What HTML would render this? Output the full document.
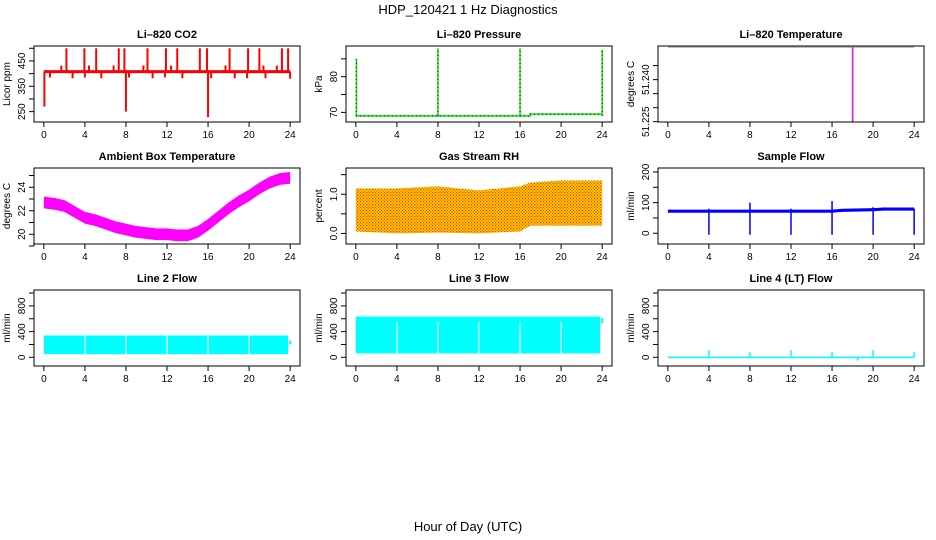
<!DOCTYPE html>
<html><head><meta charset="utf-8"><style>
html,body{margin:0;padding:0;background:#fff;}
svg{display:block;font-family:"Liberation Sans",sans-serif;}
</style></head><body>
<svg id="c" width="936" height="540" viewBox="0 0 936 540" xmlns="http://www.w3.org/2000/svg">
<defs>
<pattern id="rhp" width="3" height="3" patternUnits="userSpaceOnUse">
<rect width="3" height="3" fill="#ffdd00"/><rect x="0" y="0" width="1.2" height="1.2" fill="#ff2200"/><rect x="1.5" y="1.5" width="1.2" height="1.2" fill="#ee3300"/>
</pattern>
</defs>
<text x="468" y="14" text-anchor="middle" font-size="13">HDP_120421  1 Hz Diagnostics</text>
<text x="468" y="531" text-anchor="middle" font-size="13">Hour of Day (UTC)</text>
</svg>
<script>
// ---- data ----
var hours = [0,4,8,12,16,20,24];
var xTickLabels = ["0","4","8","12","16","20","24"];
var co2Base = 408;
var co2SpikeT = [2.2,3.95,5.1,7.3,7.85,10.1,11.9,13.0,15.2,15.9,18.1,19.9,21.0,23.2,23.8,1.7,4.4,6.8,9.7,12.4,17.7,21.4,22.7,0.6,2.8,4.0,5.6,8.3,10.6,11.8,13.5,16.3,18.6,19.8,21.6,24.0,0.05,8.0,16.0];
var co2SpikeV = [500,500,500,500,500,500,500,500,500,500,500,500,500,500,500,432,432,432,432,432,432,432,432,385,382,385,382,385,382,385,382,382,382,382,382,380,270,250,228];
var presT = [0,17,17,24];
var presV = [69,69,69.5,69.5];
var presSpikeT = [0.05,8,16,24];
var presSpikeV = [85,88,88,87.5];
var tempBase = 51.2516;
var tempSpikeT = [18];
var tempSpikeV = [51.2249];
var ambT = [0,1,2,3,4,5,6,7,8,9,10,11,12,13,14,15,16,17,18,19,20,21,22,23,24];
var ambV = [22.7,22.6,22.4,21.9,21.4,21.2,20.9,20.6,20.4,20.2,20.1,20.0,20.0,19.9,19.9,20.2,20.8,21.5,22.2,22.8,23.3,23.9,24.4,24.7,24.8];
var rhT = [0,4,8,12,16,17,20,24];
var rhLo = [0.05,0.0,0.02,0.0,0.05,0.2,0.2,0.2];
var rhHi = [1.15,1.15,1.2,1.1,1.2,1.3,1.35,1.35];
var flowT = [0,16,17,20,21,24];
var flowV = [73,73,76,78,80,80];
var flowDipT = [4,8,12,16,20,24];
var flowDipV = [-5,-5,-5,-5,-5,-5];
var flowUpV = [80,100,80,105,85,80];
var l2Lo = 50, l2Hi = 340;
var l3Lo = 62, l3Hi = 632;
var l4SpikeT = [4,8,12,16,20,24,18.5];
var l4SpikeV = [110,80,110,80,110,80,-50];

// ---- layout ----
var svg = document.getElementById('c');
var NS = 'http://www.w3.org/2000/svg';
var W = 266, H = 76;
var cols = [34,346,658], rows = [46,168,290];
function mk(tag, attrs, parent){
  var e = document.createElementNS(NS, tag);
  for (var k in attrs) e.setAttribute(k, attrs[k]);
  (parent||svg).appendChild(e); return e;
}
function panel(ci, ri, title, name, ymin, ymax, yticks, ylabels, ylab){
  var L = cols[ci], T = rows[ri];
  var g = mk('g', {});
  
  
  var p = {L:L,T:T,g:g,
    x:function(t){return L + (t+0.96)/25.92*W;},
    y:function(v){return T + H - (v-ymin)/(ymax-ymin)*H;}};
  var tt = mk('text', {x:L+W/2, y:T-8, 'text-anchor':'middle', 'font-size':11, 'font-weight':'bold'}, g);
  tt.textContent = title;
  
  
  var xa = mk('g', {}, g);
  
  
  mk('line', {x1:p.x(hours[0]), x2:p.x(hours[hours.length-1]), y1:T+H, y2:T+H, stroke:'#000'}, xa);
  hours.forEach(function(h,i){
    mk('line', {x1:p.x(h), x2:p.x(h), y1:T+H, y2:T+H+5, stroke:'#000'}, xa);
    var t = mk('text', {x:p.x(h), y:T+H+16, 'text-anchor':'middle', 'font-size':10}, xa);
    t.textContent = xTickLabels[i];
  });
  var ya = mk('g', {}, g);
  
  
  mk('line', {x1:L, x2:L, y1:p.y(yticks[0]), y2:p.y(yticks[yticks.length-1]), stroke:'#000'}, ya);
  yticks.forEach(function(v,i){
    mk('line', {x1:L-5, x2:L, y1:p.y(v), y2:p.y(v), stroke:'#000'}, ya);
    if (ylabels[i]) {
      var t = mk('text', {x:0, y:0, 'text-anchor':'middle', 'font-size':10, transform:'translate('+(L-9)+','+p.y(v)+') rotate(-90)'}, ya);
      t.textContent = ylabels[i];
    }
  });
  var yl = mk('text', {x:0,y:0,'text-anchor':'middle','font-size':10, transform:'translate('+(L-24)+','+(T+H/2)+') rotate(-90)'}, g);
  yl.textContent = ylab;
  
  
  p.clip = 'cl'+ci+ri;
  var cp = mk('clipPath', {id:p.clip}, g);
  mk('rect', {x:L, y:T, width:W, height:H}, cp);
  p.d = mk('g', {'clip-path':'url(#'+p.clip+')'}, g);
  p.box = function(){ mk('rect', {x:L, y:T, width:W, height:H, fill:'none', stroke:'#000'}, g); };
  return p;
}
function vline(p, t, v0, v1, col, w, dash){
  var a = {x1:p.x(t), x2:p.x(t), y1:p.y(v0), y2:p.y(v1), stroke:col, 'stroke-width':w};
  if (dash) a['stroke-dasharray'] = dash;
  var l = mk('line', a, p.d);
  
  
  return l;
}
function poly(p, ts, vs, col, w, dash){
  var pts = ts.map(function(t,i){return p.x(t)+','+p.y(vs[i]);}).join(' ');
  var a = {points:pts, fill:'none', stroke:col, 'stroke-width':w};
  if (dash) a['stroke-dasharray'] = dash;
  var l = mk('polyline', a, p.d);
  
  
}
function band(p, ts, lo, hi, fill){
  var pts = ts.map(function(t,i){return p.x(t)+','+p.y(hi[i]);});
  for (var i=ts.length-1;i>=0;i--) pts.push(p.x(ts[i])+','+p.y(lo[i]));
  var b = mk('polygon', {points:pts.join(' '), fill:fill}, p.d);
  
  
}

// Panel 1 CO2
var p1 = panel(0,0,'Li\u2013820 CO2','co2-panel',209,509,[250,300,350,400,450,500],['250','','350','','450',''],'Licor ppm');
poly(p1,[0,24],[co2Base,co2Base],'#ff0000',3);
co2SpikeT.forEach(function(t,i){ vline(p1,t,co2Base,co2SpikeV[i],'#ff0000',2); });
p1.box();

// Panel 2 Pressure
var p2 = panel(1,0,'Li\u2013820 Pressure','pressure-panel',67.3,88.6,[70,75,80,85],['70','','80',''],'kPa');
poly(p2,presT,presV,'#33ee33',2);
poly(p2,presT,presV,'#000',1,'1,3');
presSpikeT.forEach(function(t,i){ vline(p2,t,presV[0],presSpikeV[i],'#00ee00',1.5); vline(p2,t,presV[0],presSpikeV[i],'#000',1,'1,3'); });
p2.box();

// Panel 3 Temperature
var p3 = panel(2,0,'Li\u2013820 Temperature','li820-temperature-panel',51.2249,51.252,[51.225,51.230,51.235,51.240,51.245],['51.225','','','51.240',''],'degrees C');
poly(p3,[0,24],[tempBase,tempBase],'#999999',1);
tempSpikeT.forEach(function(t,i){ vline(p3,t,tempBase,tempSpikeV[i],'#ff00ff',1.5); });
p3.box();

// Panel 4 Ambient
var p4 = panel(0,1,'Ambient Box Temperature','ambient-temperature-panel',19.17,25.64,[19,20,21,22,23,24,25],['','20','','22','','24',''],'degrees C');
band(p4, ambT, ambV.map(function(v){return v-0.5;}), ambV.map(function(v){return v+0.5;}), '#ff00ff');
p4.box();

// Panel 5 RH
var p5 = panel(1,1,'Gas Stream RH','gas-stream-rh-panel',-0.27,1.67,[0,0.5,1,1.5],['0.0','','1.0',''],'percent');
band(p5, rhT, rhLo, rhHi, 'url(#rhp)');
p5.box();

// Panel 6 Sample flow
var p6 = panel(2,1,'Sample Flow','sample-flow-panel',-35,213,[0,50,100,150,200],['0','','100','','200'],'ml/min');
band(p6, flowT, flowV.map(function(v){return v-6;}), flowV.map(function(v){return v+4;}), '#0000ff');
flowDipT.forEach(function(t,i){ vline(p6,t,flowUpV[i],flowDipV[i],'#0000ff',1.5); });
p6.box();

// Panel 7 Line 2
var p7 = panel(0,2,'Line 2 Flow','line2-flow-panel',-135,1047,[0,200,400,600,800,1000],['0','','400','','800',''],'ml/min');
band(p7,[0,23.8],[l2Lo,l2Lo],[l2Hi,l2Hi],'#00ffff');
[4,8,12,16,20].forEach(function(t){ vline(p7,t,l2Lo-20,l2Hi+20,'#fff',1.2); });
vline(p7,24,l2Lo+150,l2Hi-80,'#00ffff',2);
p7.box();

// Panel 8 Line 3
var p8 = panel(1,2,'Line 3 Flow','line3-flow-panel',-135,1047,[0,200,400,600,800,1000],['0','','400','','800',''],'ml/min');
band(p8,[0,23.8],[l3Lo,l3Lo],[l3Hi,l3Hi],'#00ffff');
[4,8,12,16,20].forEach(function(t){ vline(p8,t,l3Lo-20,l3Hi-80,'#fff',1.2); });
vline(p8,24,l3Hi-100,l3Hi-20,'#00ffff',2);
p8.box();

// Panel 9 Line 4
var p9 = panel(2,2,'Line 4 (LT) Flow','line4-flow-panel',-135,1047,[0,200,400,600,800,1000],['0','','400','','800',''],'ml/min');
poly(p9,[0,24],[0,0],'#00ffff',1.5);
l4SpikeT.forEach(function(t,i){ vline(p9,t,0,l4SpikeV[i],'#00ffff',1.5); });
p9.box();
</script>
</body></html>
